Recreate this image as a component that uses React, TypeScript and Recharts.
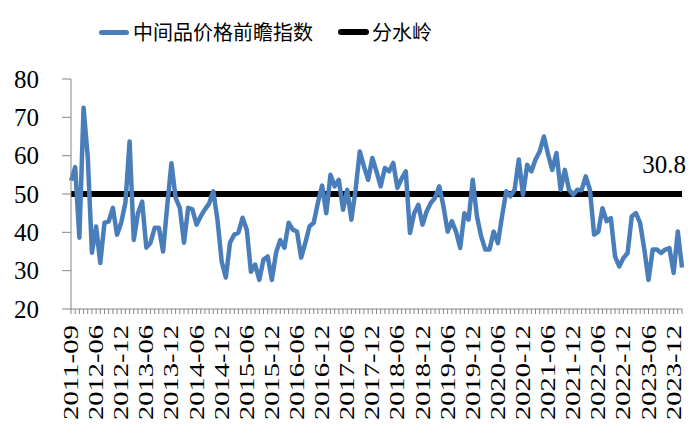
import { useEffect } from "react";
import { LineChart, Line, XAxis, YAxis } from "recharts";

// months on the axis: four 2011 months, two early-2012 points, then monthly from 2012-06 to 2024-02
const earlyMonths = ["2011-09", "2011-10", "2011-11", "2011-12", "2012-04", "2012-05"];
const monthlyFrom = (y: number, m: number, y2: number, m2: number) => {
  const out: string[] = [];
  while (y < y2 || (y === y2 && m <= m2)) {
    out.push(`${y}-${String(m).padStart(2, "0")}`);
    m++;
    if (m > 12) {
      m = 1;
      y++;
    }
  }
  return out;
};
const months = [...earlyMonths, ...monthlyFrom(2012, 6, 2024, 2)];

// 中间品价格前瞻指数
const indexValues = [
  53.5, 57, 38.6, 72.5, 59.7, 34.7, 41.5, 32, 42.5, 42.8, 46.4, 39.4,
  42.5, 47.7, 63.7, 38, 45, 48, 36, 37.3, 41.2, 41.2, 35, 47,
  58, 49, 46.4, 37.3, 46.4, 46, 42, 44.2, 46, 47.5, 50.7, 43.3,
  32.4, 28.2, 37.3, 39.4, 39.9, 43.8, 40.7, 29.7, 31.6, 27.6, 32.9, 33.7,
  27.6, 34.7, 38, 36, 42.5, 40.7, 40.2, 33.4, 37.3, 41.6, 42.5, 47.7,
  52.2, 45, 55, 52, 53.7, 45.9, 51.1, 43.3, 51.1, 61.1, 57.2, 53.7,
  59.4, 55.9, 52, 56.8, 55.9, 58.1, 51.6, 54, 55.9, 39.8, 45, 47.2,
  42, 45.5, 47.7, 49, 52, 46.8, 40.2, 42.9, 40.2, 35.9, 45, 43.3,
  53.7, 44.2, 39, 35.5, 35.5, 40.2, 37.2, 44.2, 50.7, 49.4, 51.1, 59,
  49.8, 57.6, 55.9, 59, 61.1, 65, 60.3, 56.3, 60.7, 51.1, 56.3, 51.1,
  49.8, 51.1, 51, 54.6, 51.1, 39.4, 40.2, 46.3, 42.9, 43.7, 33.7, 31.1,
  33.3, 34.6, 44.2, 45, 42.4, 35.5, 27.6, 35.5, 35.5, 34.6, 35.5, 35.9,
  29.4, 40.2, 30.8,
];

// 分水岭
const watershedLevel = 50;

const yTicks = [20, 30, 40, 50, 60, 70, 80];
const labelEvery = 6;

const data = months.map((month, i) => ({
  month,
  index: indexValues[i],
  watershed: watershedLevel,
}));

const serif = "'Liberation Serif', 'DejaVu Serif', serif";
const cjk = "Noto Sans CJK SC";

function MonthTick(props: any) {
  const { x, y, payload, index } = props;
  const i = payload?.index ?? index;
  if (i % labelEvery !== 0) return <g />;
  return (
    <g transform={`translate(${x},${y}) rotate(-90)`}>
      <text
        x={0}
        y={0}
        dy="0.35em"
        textAnchor="end"
        fill="#000"
        fontSize={20}
        textLength={95}
        lengthAdjust="spacingAndGlyphs"
        fontFamily={serif}
      >
        {payload.value}
      </text>
    </g>
  );
}

function ValueTick(props: any) {
  const { x, y, payload } = props;
  return (
    <text x={x} y={y} dy="0.35em" textAnchor="end" fill="#000" fontSize={25} fontFamily={serif}>
      {payload.value}
    </text>
  );
}

function LastValueLabel(props: any) {
  const { x, index, value } = props;
  if (index !== indexValues.length - 1) return null;
  return (
    <text x={x - 18} y={173} textAnchor="middle" fontSize={25} fill="#000" fontFamily={serif}>
      {value}
    </text>
  );
}

export default function App() {
  useEffect(() => {
    document.body.style.margin = "0";
  }, []);

  return (
    <div style={{ position: "relative", width: 700, height: 446, background: "#fff" }}>
      <div
        style={{
          position: "absolute",
          top: 16,
          left: 99,
          display: "flex",
          alignItems: "center",
          fontFamily: cjk,
          fontSize: 20,
          color: "#000",
          lineHeight: "32px",
        }}
      >
        <span style={{ width: 30, height: 5, borderRadius: 3, background: "#4A7EBB", marginRight: 4 }} />
        <span>中间品价格前瞻指数</span>
        <span style={{ width: 31, height: 6, borderRadius: 3, background: "#000", marginLeft: 25, marginRight: 3 }} />
        <span>分水岭</span>
      </div>
      <LineChart
        width={700}
        height={446}
        data={data}
        margin={{ top: 79, right: 18, bottom: 0, left: 0 }}
      >
        <YAxis
          width={71}
          domain={[20, 80]}
          ticks={yTicks}
          interval={0}
          tickSize={9}
          tickMargin={23}
          axisLine={{ stroke: "#868686" }}
          tickLine={{ stroke: "#868686" }}
          tick={<ValueTick />}
        />
        <XAxis
          dataKey="month"
          interval={0}
          height={137}
          tickSize={5}
          tickMargin={11}
          axisLine={{ stroke: "#868686" }}
          tickLine={{ stroke: "#868686" }}
          tick={<MonthTick />}
        />
        <Line
          dataKey="watershed"
          stroke="#000"
          strokeWidth={6}
          dot={false}
          isAnimationActive={false}
        />
        <Line
          dataKey="index"
          stroke="#4A7EBB"
          strokeWidth={4.5}
          strokeLinejoin="round"
          dot={false}
          isAnimationActive={false}
          label={<LastValueLabel />}
        />
      </LineChart>
    </div>
  );
}
